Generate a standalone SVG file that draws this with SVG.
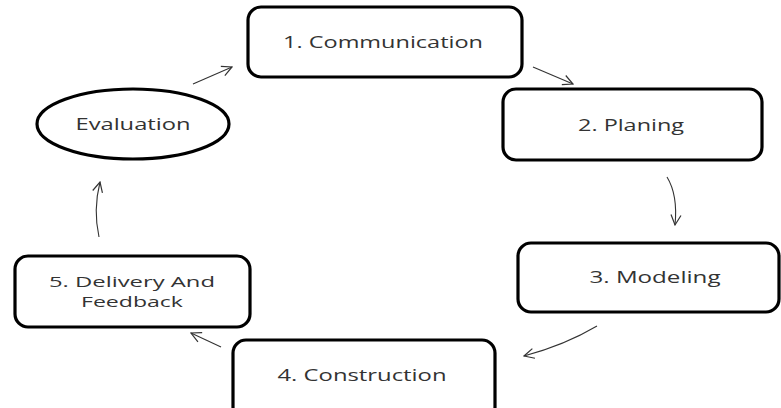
<svg xmlns="http://www.w3.org/2000/svg" width="781" height="408" viewBox="0 0 781 408">
<style>
.box{fill:#fff;stroke:#000;stroke-width:3.2}
.lbl{font-family:"Open Sans","Noto Sans",sans-serif;font-size:16px;fill:#333;text-anchor:middle}
.sm{font-size:14.5px}
.conn{fill:none;stroke:#333;stroke-width:1.1;marker-end:url(#ah)}
</style>
<defs>
<marker id="ah" viewBox="0 0 12 12" refX="11" refY="6" markerWidth="12" markerHeight="12" markerUnits="userSpaceOnUse" orient="auto">
<path d="M1,1 L11,6 L1,11" fill="none" stroke="#333" stroke-width="1.2"/>
</marker>
</defs>
<rect width="781" height="408" fill="#fff"/>
<g id="n1"><rect class="box" x="248" y="7" width="274" height="70" rx="13"/><text class="lbl" x="383" y="48" textLength="200" lengthAdjust="spacingAndGlyphs">1. Communication</text></g>
<g id="n2"><rect class="box" x="503" y="89" width="259" height="71" rx="13"/><text class="lbl" x="631" y="131" textLength="106" lengthAdjust="spacingAndGlyphs">2. Planing</text></g>
<g id="n3"><rect class="box" x="518" y="243" width="261" height="69" rx="13"/><text class="lbl" x="655" y="283" textLength="131" lengthAdjust="spacingAndGlyphs">3. Modeling</text></g>
<g id="n4"><rect class="box" x="233" y="340" width="262" height="80" rx="13"/><text class="lbl" x="362" y="381" textLength="169" lengthAdjust="spacingAndGlyphs">4. Construction</text></g>
<g id="n5"><rect class="box" x="15" y="256" width="235" height="71" rx="13"/><text class="lbl sm" x="132" y="287" textLength="166" lengthAdjust="spacingAndGlyphs">5. Delivery And</text><text class="lbl sm" x="132" y="307" textLength="102" lengthAdjust="spacingAndGlyphs">Feedback</text></g>
<g id="eval"><ellipse class="box" cx="133" cy="124" rx="96" ry="35"/><text class="lbl" x="133" y="130" textLength="115" lengthAdjust="spacingAndGlyphs">Evaluation</text></g>
<g id="connectors">
<path class="conn" d="M533,67 L573,84"/>
<path class="conn" d="M667,177 Q678,195 675,225"/>
<path class="conn" d="M597,326 Q565,345 524,356"/>
<path class="conn" d="M221,347 L191,333"/>
<path class="conn" d="M99,237 Q93,210 100,182"/>
<path class="conn" d="M193,84 L232,67"/>
</g>
</svg>
